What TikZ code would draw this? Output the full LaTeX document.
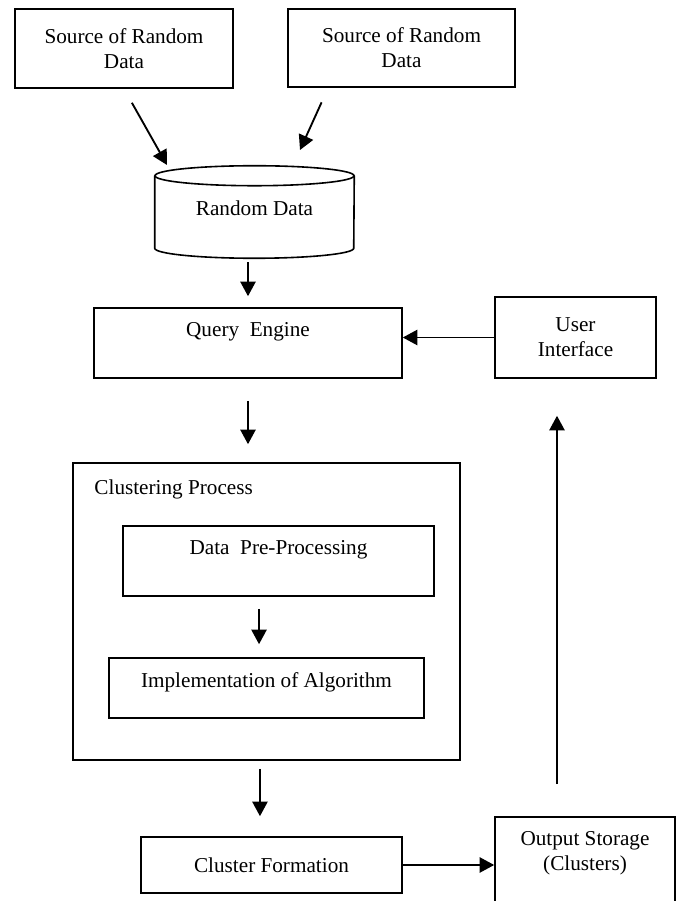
\documentclass[tikz,border=0pt]{standalone}
\usepackage{fontspec}
\setmainfont{Liberation Serif}
\usetikzlibrary{arrows.meta}

\begin{document}
\begin{tikzpicture}[x=0.75pt,y=0.75pt,font=\fontsize{15.9}{18.75}\selectfont,
box/.style={draw,line width=1.2pt,align=center,inner sep=0pt},
arrow/.style={-{Triangle[length=11pt,width=11.5pt]},line width=1.4pt}]
\useasboundingbox (0,0) rectangle (678,901);
\clip (0,0) rectangle (678,901);
\node[box,minimum width=163.5pt,minimum height=59.25pt] (src1) at (124,852.5) {Source of Random\\Data};
\node[box,minimum width=170.25pt,minimum height=58.5pt] (src2) at (401.5,853) {Source of Random\\Data};
% data store drawn round the node
\node[minimum width=149.25pt,minimum height=69pt,inner sep=0pt,text depth=6pt] (rand) at (254.5,689) {Random Data};
\draw[line width=1.2pt] ([yshift=-7.5pt]rand.north west) -- ([yshift=7.5pt]rand.south west)
 arc[start angle=180,end angle=360,x radius=74.625pt,y radius=7.5pt] -- ([yshift=-7.5pt]rand.north east);
\draw[line width=1.2pt] ([yshift=-7.5pt]rand.north) ellipse[x radius=74.625pt,y radius=7.5pt];
\node[box,minimum width=231pt,minimum height=52.5pt,text depth=20pt] (query) at (248,558) {Query\ \ Engine};
\node[box,minimum width=120.75pt,minimum height=60.75pt] (ui) at (575.5,563.5) {User\\Interface};
\node[box,minimum width=290.25pt,minimum height=222.75pt] (cp) at (266.5,289.5) {};
\node[anchor=base west,inner sep=0pt] (cplabel) at ([xshift=16.5pt,yshift=-24pt]cp.north west) {Clustering Process};
\node[box,minimum width=233.25pt,minimum height=52.5pt,text depth=20pt] (dpp) at (278.5,340) {Data\ \ Pre-Processing};
\node[box,minimum width=236.25pt,minimum height=45pt,text depth=12.5pt] (ioa) at (266.5,213) {Implementation of Algorithm};
\node[box,minimum width=195.75pt,minimum height=42pt] (cf) at (271.5,36) {Cluster Formation};
\node[box,minimum width=135pt,minimum height=73.5pt,text depth=23pt] (os) at (585,35) {Output Storage\\(Clusters)};
% connectors
\coordinate (in1) at (167,736);
\coordinate (in2) at (300,751);
\draw[arrow,shorten <=12pt] (src1.south) -- (in1);
\draw[arrow,shorten <=12pt] ([xshift=-55pt]src2.south) -- (in2);
\draw[arrow,shorten <=3pt,shorten >=8.25pt] (query.north |- rand.south) -- (query.north);
\draw[arrow] (ui.west) -- (ui.west -| query.east);
\draw[arrow,shorten <=16.5pt,shorten >=13.5pt] (query.south) -- (query.south |- cp.north);
\draw[arrow,shorten <=9pt,shorten >=9.75pt] ([xshift=-14.6pt]dpp.south) -- ([xshift=-14.6pt]dpp.south |- ioa.north);
\draw[arrow,shorten <=6pt,shorten >=15pt] ([xshift=-4.9pt]cp.south) -- ([xshift=-4.9pt]cp.south |- cf.north);
\draw[arrow] (cf.east) -- (cf.east -| os.west);
\draw[arrow,shorten <=24pt,shorten >=27.75pt] ([xshift=-21pt]os.north) -- ([xshift=-21pt]os.north |- ui.south);
\end{tikzpicture}
\end{document}
